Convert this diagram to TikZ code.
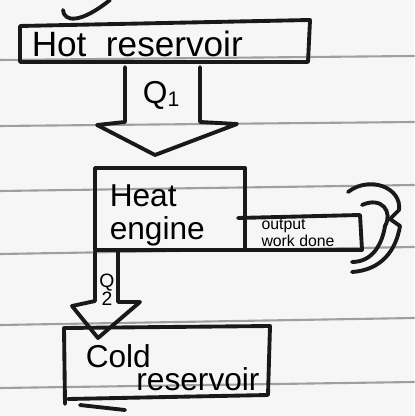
\documentclass[tikz,border=0pt]{standalone}
\usepackage{fontspec}
\setmainfont{Liberation Sans}
\begin{document}
\begin{tikzpicture}[x=0.01cm,y=-0.01cm, line width=1pt, line join=round, line cap=round,
  ink/.style={draw=black!90, line width=1.1pt},
  rule/.style={draw=gray!75, line width=0.6pt},
  big/.style={font=\fontsize{9}{8.5}\selectfont, align=left, inner sep=0pt},
  small/.style={font=\fontsize{4.5}{4.8}\selectfont, align=left, inner sep=0pt}]
\fill[gray!7] (0,0) rectangle (414,416);
\useasboundingbox (0,0) rectangle (414,416);
% ruled lines of the paper
\foreach \ya/\yb in {60/56, 126/122, 191/185, 254/247, 325/318, 388/382}
  \draw[rule] (0,\ya) -- (414,\yb);
% stray stroke at top
\draw[ink] (63,10) .. controls (64,22) and (80,24) .. (110,0);
% hot reservoir
\draw[ink] (20,26) -- (310,20) -- (308,62) -- (20,62) -- cycle;
\node[big, font=\fontsize{10}{10}\selectfont, anchor=west] (hot) at (30,44) {Hot \ reservoir};
% Q1 hollow arrow
\draw[ink] (125,67) -- (125,122) -- (97,125) -- (155,155) -- (237,124) -- (200,122) -- (200,67);
\node[big] (q1) at (162,95) {Q\textsubscript{1}};
% heat engine
\draw[ink] (95,168) -- (245,168) -- (245,250) -- (95,250) -- cycle;
\node[big, anchor=north west] (eng) at (108,183) {Heat\\[1pt]engine};
% output work box
\draw[ink] (238,218) -- (360,215) -- (362,250) -- (238,250);
\node[small] (out) at (298,233) {output\\work done};
% curved hollow arrow
\draw[ink] (348,192) .. controls (370,175) and (402,188) .. (399,210) -- (390,219) -- (400,226)
  .. controls (396,250) and (382,270) .. (352,272);
\draw[ink] (362,205) .. controls (382,196) and (393,212) .. (385,226)
  .. controls (382,245) and (372,262) .. (352,262);
% Q2 hollow arrow
\draw[ink] (95,252) -- (95,301) -- (72,306) -- (98,338) -- (140,302) -- (118,302) -- (118,252);
\node[small, font=\fontsize{5.5}{5}\selectfont, align=center] (q2) at (107,290) {Q\\2};
% cold reservoir
\draw[ink] (65,404) -- (64,328) -- (270,326) -- (268,395) -- (68,399);
\node[big, anchor=north west] (cold) at (84,343) {Cold\\[-2pt]\hspace{1.6em}reservoir};
\draw[ink] (80,405) -- (125,410);
\end{tikzpicture}
\end{document}
